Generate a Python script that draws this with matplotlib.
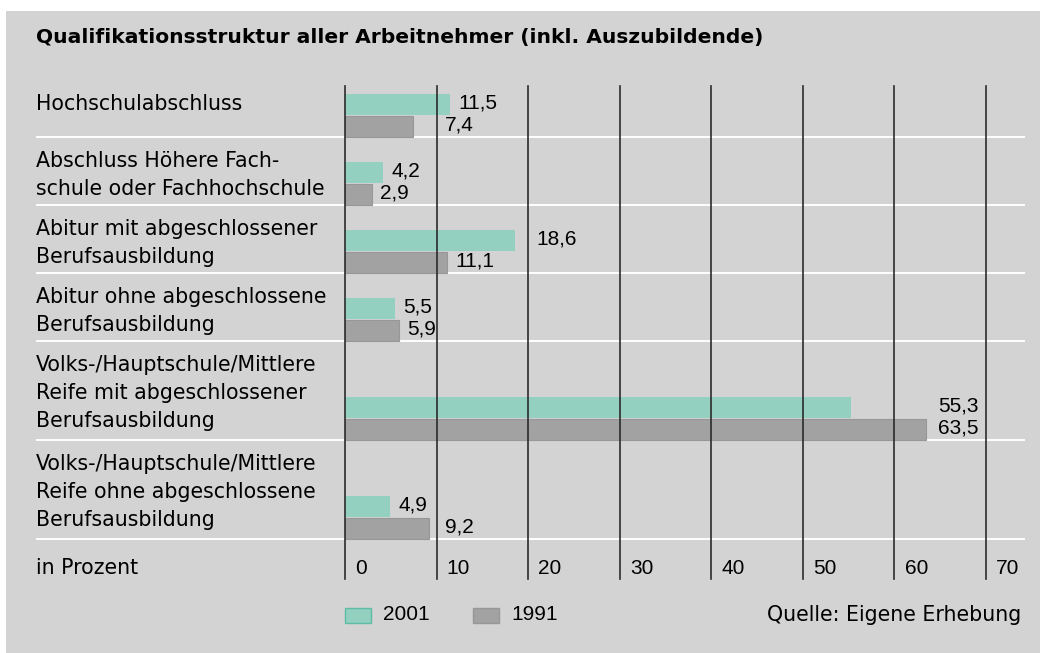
import matplotlib
matplotlib.use("Agg")
import matplotlib.pyplot as plt
import matplotlib.patches as patches

plt.rcParams['font.family'] = ['DejaVu Sans']
NUM_FONT = ['Liberation Sans', 'DejaVu Sans']  # narrower digits

# data
categories = [
    "Hochschulabschluss",
    "Abschluss Höhere Fach-\nschule oder Fachhochschule",
    "Abitur mit abgeschlossener\nBerufsausbildung",
    "Abitur ohne abgeschlossene\nBerufsausbildung",
    "Volks-/Hauptschule/Mittlere\nReife mit abgeschlossener\nBerufsausbildung",
    "Volks-/Hauptschule/Mittlere\nReife ohne abgeschlossene\nBerufsausbildung",
]
values_2001 = [11.5, 4.2, 18.6, 5.5, 55.3, 4.9]
values_1991 = [7.4, 2.9, 11.1, 5.9, 63.5, 9.2]
ticks = [0, 10, 20, 30, 40, 50, 60, 70]
series_names = ["2001", "1991"]
title = "Qualifikationsstruktur aller Arbeitnehmer (inkl. Auszubildende)"
source = "Quelle: Eigene Erhebung"
unit_label = "in Prozent"

# colours
bg_grey = "#d3d3d3"
teal = "#93d0c0"
teal_edge = "#5fbaa6"
bar_grey = "#a2a2a2"
bar_grey_edge = "#979797"
grid_col = "#2b2b2b"

W, H = 1040, 653
X0_PX = 345                     # pixel position of value 0
PX_PER_UNIT = (986 - 345) / 70  # pixels per percent


def xd(px):
    # pixel column -> data x
    return (px - X0_PX) / PX_PER_UNIT


fig = plt.figure(figsize=(W / 100, H / 100), dpi=100, facecolor="white")
ax = fig.add_axes([0, 0, 1, 1])
ax.set_xlim(xd(0), xd(W))
ax.set_ylim(H, 0)
ax.axis("off")

# grey panel
ax.add_patch(patches.Rectangle((6 / W, 0), (W - 6) / W, (H - 11) / H,
                               transform=ax.transAxes, facecolor=bg_grey,
                               edgecolor="none", zorder=0))

FS = 14.8
NFS = 15
# title
ax.text(xd(36), 38, title, fontsize=14.6, fontweight="bold", va="center", ha="left")

# layout of rows: height depends on number of label lines
row_height = {1: 51, 2: 68, 3: 99}
top = 86
bar_h = 20.5
seps = []
for i, cat in enumerate(categories):
    lines = cat.split("\n")
    h = row_height[len(lines)]
    bottom = top + h
    seps.append(bottom)
    # labels
    first = top + 18 if len(lines) == 1 else top + 24
    for j, line in enumerate(lines):
        ax.text(xd(36), first + 28 * j, line, fontsize=FS, va="center", ha="left")
    # bars
    y_grey = bottom - bar_h / 2 - 0.5
    y_teal = y_grey - bar_h - 1.5
    ax.barh(y_teal, values_2001[i], height=bar_h, left=0, color=teal,
            edgecolor="none", zorder=2)
    ax.barh(y_grey, values_1991[i], height=bar_h, left=0, color=bar_grey,
            edgecolor=bar_grey_edge, linewidth=0.8, zorder=2)
    # value labels, moved past a grid line when they would cross it
    for v, yy in ((values_2001[i], y_teal), (values_1991[i], y_grey)):
        txt = f"{v:.1f}".replace(".", ",")
        if v >= 50:
            ax.text(ticks[-1] - 0.8, yy - 1, txt, fontsize=NFS, family=NUM_FONT,
                    va="center", ha="right", zorder=4)
            continue
        x = v + 0.9
        w = len(txt) * 0.95
        for g in ticks:
            if x - 0.6 < g < x + w - 0.3:
                x = g + 0.9
        ax.text(x, yy - 1, txt, fontsize=NFS, family=NUM_FONT,
                va="center", ha="left", zorder=4)
    top = bottom

# white separators
for s in seps:
    ax.plot([xd(36), xd(1025)], [s, s], color="white", lw=1.4, zorder=1,
            solid_capstyle="butt")

# grid lines and tick labels
axis_y = 568
for t in ticks:
    ax.plot([t, t], [86, 579], color=grid_col, lw=1.2, zorder=3)
    ax.text(t + 1.1, axis_y, str(t), fontsize=NFS, family=NUM_FONT,
            va="center", ha="left")
ax.text(xd(36), axis_y, unit_label, fontsize=FS, va="center", ha="left")

# legend
leg_y = 615
for name, fc, ec, px in ((series_names[0], teal, teal_edge, 345),
                         (series_names[1], bar_grey, bar_grey_edge, 473)):
    ax.add_patch(patches.Rectangle((xd(px), leg_y - 7.5), 26 / PX_PER_UNIT, 15,
                                   facecolor=fc, edgecolor=ec, lw=1.0, zorder=3))
    ax.text(xd(px + 38), leg_y, name, fontsize=NFS, family=NUM_FONT,
            va="center", ha="left")
ax.text(xd(1021), leg_y, source, fontsize=FS, va="center", ha="right")

fig.savefig("out.png", dpi=100, facecolor="white")
